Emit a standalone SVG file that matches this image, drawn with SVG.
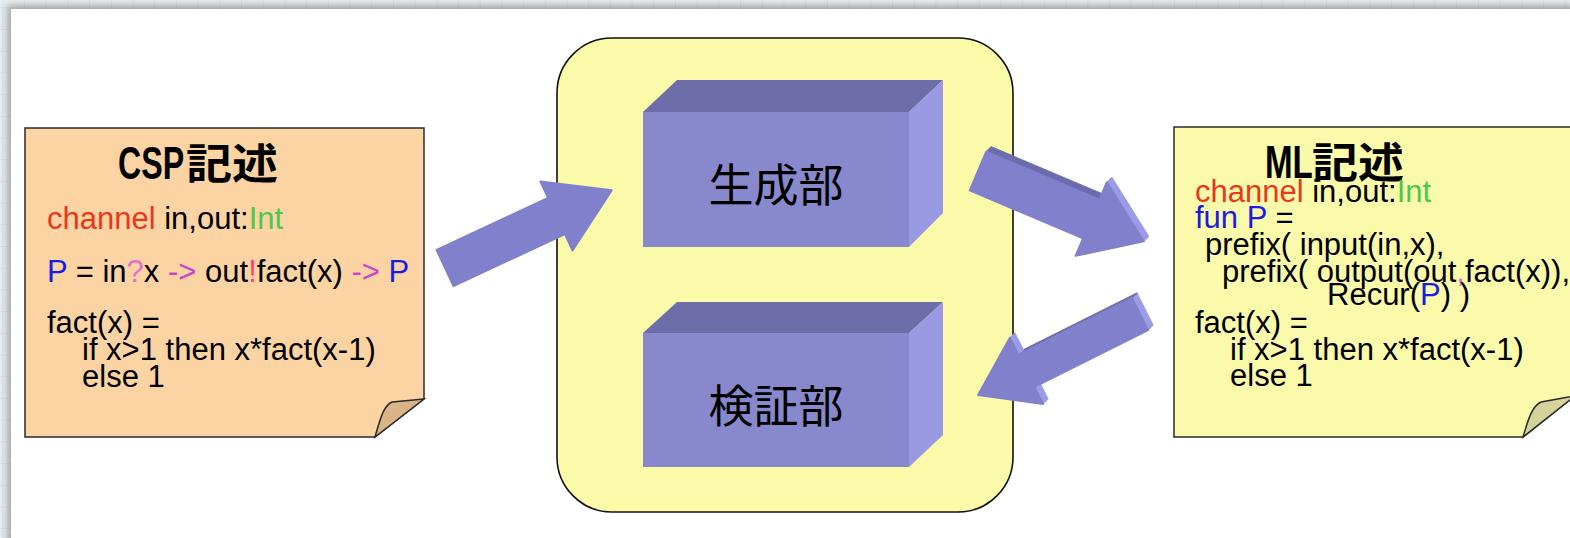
<svg xmlns="http://www.w3.org/2000/svg" width="1570" height="538" viewBox="0 0 1570 538">
<defs>
<pattern id="grid" x="2.3" y="7.3" width="21.7" height="21.7" patternUnits="userSpaceOnUse">
<path d="M0,0 H21.7 M0,0 V21.7" stroke="#C4D6E0" stroke-width="1" fill="none"/>
</pattern>
<filter id="blur" x="-5%" y="-5%" width="110%" height="110%"><feGaussianBlur stdDeviation="3"/></filter>
<style>
.code{font-family:"Liberation Sans",Arial,sans-serif;font-size:31px;fill:#000}
.title{font-family:"Liberation Sans","Noto Sans CJK JP",sans-serif;font-weight:bold;fill:#000}
.cjk{font-family:"Noto Sans CJK JP",sans-serif;font-weight:bold;fill:#000}
.lbl{font-family:"Noto Sans CJK JP",sans-serif;font-size:45px;fill:#000;text-anchor:middle}
.red{fill:#E8381B}.grn{fill:#4DC84D}.blu{fill:#1C1CE0}.mag{fill:#CC44CC}.pnk{fill:#E070D0}.exc{fill:#FF4080}
.note{stroke:#2A2A2A;stroke-width:1.5}
.front{fill:#8888CC}.top{fill:#6D6DA9}.side{fill:#9A9AE2}
.arr{fill:#8080CC;stroke:#8080CC;stroke-width:2;stroke-linejoin:round}
.ad{fill:#6C6CAC;stroke:#6C6CAC;stroke-width:1;stroke-linejoin:round}
.al{fill:#9C9CE6;stroke:#9C9CE6;stroke-width:1;stroke-linejoin:round}
</style>
</defs>
<rect x="0" y="0" width="1570" height="538" fill="#E8ECEF"/>
<rect x="0" y="0" width="1570" height="538" fill="url(#grid)"/>
<rect x="7" y="5" width="1570" height="540" fill="#777" opacity="0.55" filter="url(#blur)"/>
<rect x="11" y="9" width="1570" height="540" fill="#FFFFFF"/>

<g id="csp-note">
<polygon class="note" points="25,128 424,128 424,399 375,437 25,437" fill="#FCD4A4"/>
<path class="note" d="M375,437 C380,420 383,406 392,402 L424,399 Z" fill="#D8B486" stroke-width="1.2"/>
<text class="title" font-size="46" transform="translate(118,179) scale(0.7,1)">CSP</text>
<text class="cjk" x="186" y="179" font-size="42" textLength="92" lengthAdjust="spacingAndGlyphs">記述</text>
<text class="code" x="47" y="229"><tspan class="red">channel</tspan> in,out:<tspan class="grn">Int</tspan></text>
<text class="code" x="47" y="282"><tspan class="blu">P</tspan> = in<tspan class="pnk">?</tspan>x <tspan class="mag">-&gt;</tspan> out<tspan class="exc">!</tspan>fact(x) <tspan class="mag">-&gt;</tspan> <tspan class="blu">P</tspan></text>
<text class="code" x="47" y="333">fact(x) =</text>
<text class="code" x="82" y="360">if x&gt;1 then x*fact(x-1)</text>
<text class="code" x="82" y="387">else 1</text>
</g>

<g id="core">
<rect x="557" y="38" width="456" height="474" rx="55" ry="55" fill="#FAFAA9" stroke="#111" stroke-width="1.6"/>
</g>

<g id="generator">
<polygon class="top" points="643,112 677,80 943,80 909,112"/>
<polygon class="side" points="909,112 943,80 943,213 909,247"/>
<rect class="front" x="643" y="112" width="266" height="135"/>
<text class="lbl" x="776" y="202">生成部</text>
</g>

<g id="verifier">
<polygon class="top" points="643,333 677,302 943,302 909,333"/>
<polygon class="side" points="909,333 943,302 943,435 909,467"/>
<rect class="front" x="643" y="333" width="266" height="134"/>
<text class="lbl" x="776" y="423">検証部</text>
</g>

<g id="ml-note">
<polygon class="note" points="1174,127 1580,127 1580,392 1523,437 1174,437" fill="#FAFAAA"/>
<path class="note" d="M1523,437 C1528,420 1532,406 1541,402 L1580,395 L1580,392 Z" fill="#D6D39A" stroke-width="1.2"/>
<text class="title" font-size="46" transform="translate(1265,178) scale(0.72,1)">ML</text>
<text class="cjk" x="1312" y="178" font-size="42" textLength="92" lengthAdjust="spacingAndGlyphs">記述</text>
<text class="code" x="1195" y="202"><tspan class="red">channel</tspan> in,out:<tspan class="grn">Int</tspan></text>
<text class="code" x="1195" y="228"><tspan class="blu">fun P</tspan> =</text>
<text class="code" x="1205" y="255">prefix( input(in,x),</text>
<text class="code" x="1222" y="282">prefix( output(out<tspan class="pnk">,</tspan>fact(x)),</text>
<text class="code" x="1327" y="305">Recur(<tspan class="blu">P</tspan>) )</text>
<text class="code" x="1195" y="333">fact(x) =</text>
<text class="code" x="1230" y="360">if x&gt;1 then x*fact(x-1)</text>
<text class="code" x="1230" y="386">else 1</text>
</g>

<g id="connectors">
<g transform="translate(445,268) rotate(-25)">
<polygon class="arr" points="0,-20 123,-20 123,-38 184,0 123,38 123,20 0,20"/>
</g>
<g transform="translate(978,171) rotate(23)">
<polygon class="ad" points="0,-21 123,-21 125.65,-27.55 2.65,-27.55"/>
<polygon class="al" points="123,-40 180,0 182.65,-6.55 125.65,-46.55"/>
<polygon class="arr" points="0,-21 123,-21 123,-40 180,0 123,40 123,21 0,21"/>
</g>
<g transform="translate(1140,314) rotate(153.4)">
<polygon class="al" points="0,-18 0,18 -6.71,20.23 -6.71,-15.77"/>
<polygon class="ad" points="0,18 127,18 120.29,20.23 -6.71,20.23"/>
<polygon class="al" points="127,18 127,37 120.29,39.23 120.29,20.23"/>
<polygon class="al" points="127,-37 127,-18 120.29,-15.77 120.29,-34.77"/>
<polygon class="arr" points="0,-18 127,-18 127,-37 181,0 127,37 127,18 0,18"/>
</g>
</g>
</svg>
